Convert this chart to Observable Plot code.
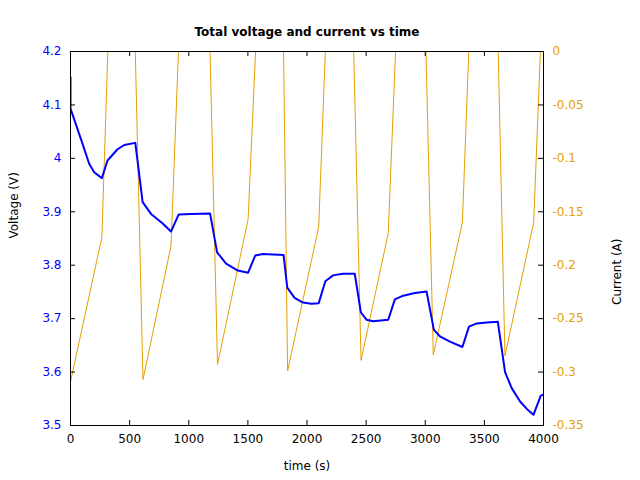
<!DOCTYPE html>
<html>
<head>
<meta charset="utf-8">
<script src="https://cdn.jsdelivr.net/npm/d3@7"></script>
<script src="https://cdn.jsdelivr.net/npm/@observablehq/plot@0.6"></script>
<style>
  html, body { margin: 0; padding: 0; background: #fff; }
</style>
</head>
<body>
<div id="chart"></div>
<script>
const titleText = "Total voltage and current vs time";
const xLabel = "time (s)";
const yLabel = "Voltage (V)";
const y2Label = "Current (A)";

const timeV = [0,0,87,158,200,265,313,398,455,548,610,681,780,850,915,1020,1180,1240,1316,1415,1502,1562,1627,1802,1833,1895,1966,2036,2099,2155,2220,2305,2404,2455,2503,2559,2687,2743,2814,2913,3011,3073,3124,3209,3314,3370,3435,3520,3614,3675,3731,3802,3859,3915,3977,4000];
const voltage = [4.152,4.093,4.037,3.990,3.974,3.963,3.996,4.017,4.025,4.029,3.918,3.896,3.878,3.863,3.895,3.896,3.897,3.824,3.803,3.790,3.786,3.818,3.821,3.819,3.758,3.739,3.730,3.728,3.729,3.770,3.781,3.784,3.784,3.712,3.698,3.695,3.698,3.736,3.743,3.748,3.751,3.679,3.667,3.657,3.647,3.685,3.691,3.693,3.694,3.600,3.570,3.545,3.531,3.520,3.556,3.558];

const timeI = [0,265,316,548,613,850,913,1180,1243,1502,1565,1802,1836,2099,2155,2395,2457,2687,2749,3006,3068,3314,3368,3617,3674,3917,3974,4000];
const current = [-0.309,-0.174,0,0,-0.307,-0.182,0,0,-0.293,-0.157,0,0,-0.299,-0.164,0,0,-0.289,-0.170,0,0,-0.284,-0.160,0,0,-0.285,-0.160,0,0];

const xTicks = [0,500,1000,1500,2000,2500,3000,3500,4000];
const vTicks = [3.5,3.6,3.7,3.8,3.9,4.0,4.1,4.2];
const vTickLabels = ["3.5","3.6","3.7","3.8","3.9","4","4.1","4.2"];
const iTicks = [0,-0.05,-0.1,-0.15,-0.2,-0.25,-0.3,-0.35];
const iTickLabels = ["0","-0.05","-0.1","-0.15","-0.2","-0.25","-0.3","-0.35"];

const blue = "#0000ff";
const orange = "#e69f00";

// current axis [-0.35, 0] is mapped onto the voltage scale [3.5, 4.2]
const vDomain = [3.5, 4.2];
const iDomain = [-0.35, 0];
const toV = c => vDomain[0] + (c - iDomain[0]) * (vDomain[1] - vDomain[0]) / (iDomain[1] - iDomain[0]);

const vData = timeV.map((t, i) => ({t, v: voltage[i]}));
const iData = timeI.map((t, i) => ({t, c: current[i]}));

const W = 640, H = 480, mL = 70, mR = 97, mT = 51, mB = 55;
const innerW = W - mL - mR, innerH = H - mT - mB;
const tk = 5;

const chart = Plot.plot({
  width: W, height: H,
  marginLeft: mL, marginRight: mR, marginTop: mT, marginBottom: mB,
  style: {fontFamily: "DejaVu Sans", fontSize: "12px", background: "#fff", color: "#000"},
  x: {domain: [0, 4000], axis: null},
  y: {domain: vDomain, axis: null},
  marks: [
    Plot.line(iData, {x: "t", y: d => toV(d.c), stroke: orange, strokeWidth: 1, clip: true}),
    Plot.line(vData, {x: "t", y: "v", stroke: blue, strokeWidth: 2, clip: true}),
    // inward ticks
    Plot.ruleX(xTicks, {x: d => d, insetTop: innerH - tk, stroke: "#000"}),
    Plot.ruleX(xTicks, {x: d => d, insetBottom: innerH - tk, stroke: "#000"}),
    Plot.ruleY(vTicks, {y: d => d, insetRight: innerW - tk, stroke: "#000"}),
    Plot.ruleY(iTicks, {y: d => toV(d), insetLeft: innerW - tk, stroke: "#000"}),
    Plot.frame({stroke: "#000", strokeWidth: 1}),
    // tick labels
    Plot.text(xTicks, {x: d => d, text: (d, i) => String(xTicks[i]), frameAnchor: "bottom", dy: 17, fill: "#000"}),
    Plot.text(vTicks, {y: d => d, text: (d, i) => vTickLabels[i], frameAnchor: "left", dx: -9, textAnchor: "end", fill: blue}),
    Plot.text(iTicks, {y: d => toV(d), text: (d, i) => iTickLabels[i], frameAnchor: "right", dx: 9, textAnchor: "start", fill: orange}),
    // labels and title
    Plot.text([xLabel], {text: d => d, frameAnchor: "bottom", dy: 44, fill: "#000"}),
    Plot.text([yLabel], {text: d => d, frameAnchor: "left", dx: -56, rotate: -90, fill: "#000"}),
    Plot.text([y2Label], {text: d => d, frameAnchor: "right", dx: 74, rotate: -90, fill: "#000"}),
    Plot.text([titleText], {text: d => d, frameAnchor: "top", dy: -24, fontWeight: "bold", fill: "#000"})
  ]
});
document.getElementById("chart").appendChild(chart);
</script>
</body>
</html>
